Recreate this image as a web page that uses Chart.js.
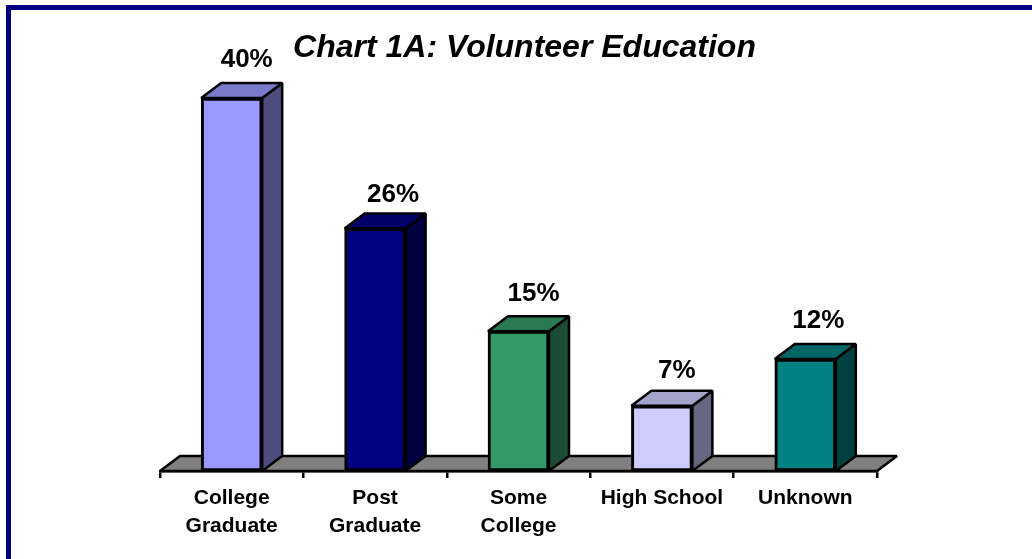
<!DOCTYPE html>
<html>
<head>
<meta charset="utf-8">
<title>Chart 1A: Volunteer Education</title>
<script src="https://cdn.jsdelivr.net/npm/chart.js@4"></script>
<style>
    html, body { margin: 0; padding: 0; background: #fff; overflow: hidden; }
    #wrap { position: absolute; left: 0; top: 0; width: 1032px; height: 559px; }
    /* the frame runs off the right and bottom of the picture */
    #frame { position: absolute; left: 6px; top: 5px; width: 2000px; height: 2000px; border: 5px solid #000080; }
</style>
</head>
<body>
<div id="frame"></div>
<div id="wrap"><canvas id="chart" width="1032" height="559"></canvas></div>
<script>
const CATEGORIES = [['College', 'Graduate'], ['Post', 'Graduate'], ['Some', 'College'], 'High School', 'Unknown'];
const VALUES = [40, 26, 15, 7, 12];
const BAR_COLORS = ['#9999ff', '#000080', '#339966', '#ccccff', '#008080'];
const TITLE = 'Chart 1A: Volunteer Education';

// Depth of the fake 3D extrusion, in pixels.
const DEPTH_X = 20;
const DEPTH_Y = 15;

// Value labels aren't evenly placed over the bars in the original: offset from the bar top.
const LABEL_DX = [15, 18, 15, 15, 13];
const LABEL_DY = [-38, -34, -37, -35, -38];

function _shade(hex, f) {
    const n = parseInt(hex.slice(1), 16);
    const c = [n >> 16, (n >> 8) & 255, n & 255].map((v) => Math.round(v * f));
    return `rgb(${c[0]},${c[1]},${c[2]})`;
}

function _poly(ctx, pts, fill) {
    ctx.beginPath();
    pts.forEach((p, i) => (i ? ctx.lineTo(p[0], p[1]) : ctx.moveTo(p[0], p[1])));
    ctx.closePath();
    ctx.fillStyle = fill;
    ctx.fill();
    ctx.stroke();
}

// Floor and the side/top faces go under the bars; the front face is the real bar.
const depthPlugin = {
    id: 'depth',
    afterLayout(chart) {
        // title sits a little right of the plot centre
        chart.titleBlock.left += 6;
        chart.titleBlock.right += 6;
    },
    beforeDatasetsDraw(chart) {
        const { ctx, chartArea: a } = chart;
        const base = a.bottom;
        ctx.save();
        ctx.lineWidth = 2.5;
        ctx.strokeStyle = '#000';
        ctx.lineJoin = 'bevel';
        _poly(ctx, [[a.left, base], [a.left + DEPTH_X, base - DEPTH_Y], [a.right + DEPTH_X, base - DEPTH_Y], [a.right, base]], '#808080');
        chart.getDatasetMeta(0).data.forEach((bar, i) => {
            const half = bar.width / 2;
            const l = bar.x - half, r = bar.x + half, t = bar.y;
            _poly(ctx, [[r, t], [r + DEPTH_X, t - DEPTH_Y], [r + DEPTH_X, base - DEPTH_Y], [r, base]], _shade(BAR_COLORS[i], 0.5));
            _poly(ctx, [[l, t], [l + DEPTH_X, t - DEPTH_Y], [r + DEPTH_X, t - DEPTH_Y], [r, t]], _shade(BAR_COLORS[i], 0.8));
        });
        ctx.restore();
    },
    afterDatasetsDraw(chart) {
        const { ctx } = chart;
        ctx.save();
        ctx.fillStyle = '#000';
        ctx.font = 'bold 26px "Liberation Sans", Arial, sans-serif';
        ctx.textAlign = 'center';
        ctx.textBaseline = 'middle';
        chart.getDatasetMeta(0).data.forEach((bar, i) => {
            ctx.fillText(VALUES[i] + '%', bar.x + LABEL_DX[i], bar.y + LABEL_DY[i]);
        });
        ctx.restore();
    },
};

new Chart(document.getElementById('chart').getContext('2d'), {
    type: 'bar',
    data: {
        labels: CATEGORIES,
        datasets: [{
            data: VALUES,
            backgroundColor: BAR_COLORS,
            borderColor: '#000',
            borderWidth: 3,
            borderSkipped: false,
            barThickness: 61,
        }],
    },
    options: {
        responsive: false,
        animation: false,
        layout: { padding: { left: 160, right: 155, top: 0, bottom: 0 } },
        scales: {
            x: {
                afterFit(scale) { scale.height = 88; },
                grid: { offset: true, drawOnChartArea: false, color: '#000', tickColor: '#000', tickLength: 7, lineWidth: 2.5 },
                border: { color: '#000', width: 2.5 },
                ticks: {
                    color: '#000',
                    autoSkip: false,
                    maxRotation: 0,
                    padding: 6,
                    font: { family: '"Liberation Sans", Arial, sans-serif', size: 21, weight: 'bold', lineHeight: 1.333 },
                },
            },
            y: { display: false, min: 0, max: 40 },
        },
        plugins: {
            legend: { display: false },
            tooltip: { enabled: false },
            title: {
                display: true,
                text: TITLE,
                color: '#000',
                font: { family: '"Liberation Sans", Arial, sans-serif', size: 32, weight: 'bold', style: 'italic', lineHeight: 1 },
                padding: { top: 32, bottom: 34 },
            },
        },
    },
    plugins: [depthPlugin],
});
</script>
</body>
</html>
